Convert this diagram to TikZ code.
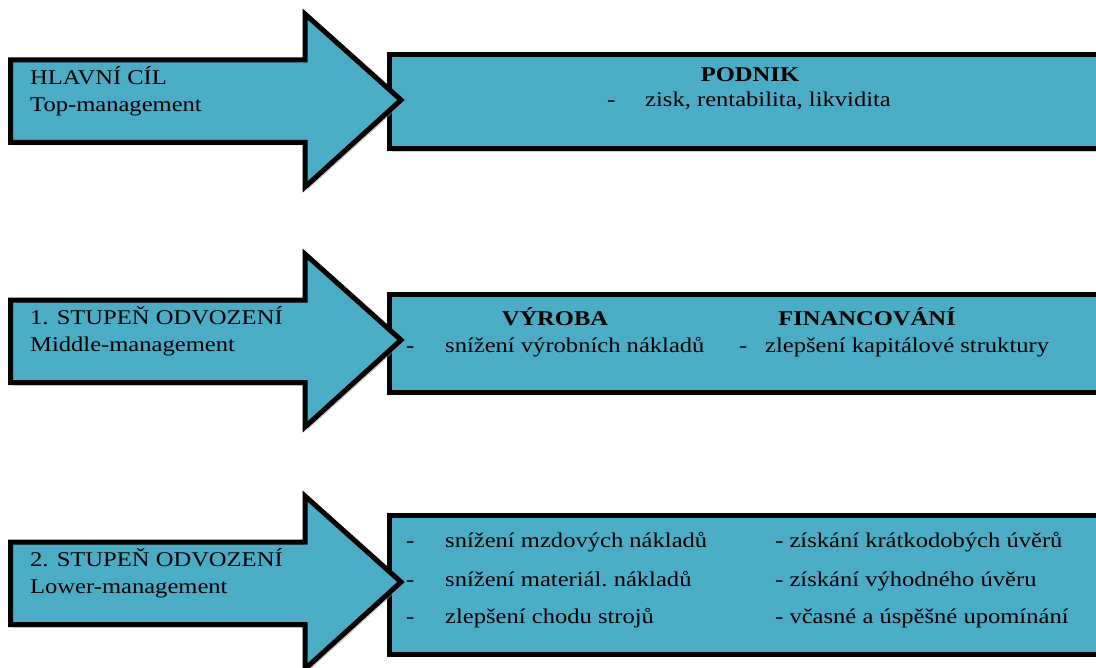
\documentclass[tikz,border=0pt]{standalone}
\usepackage{fontspec}
\setmainfont{Liberation Serif}
\newfontfamily\diagfont[FakeStretch=1.17]{Liberation Serif}
\usetikzlibrary{shadows}
\definecolor{panelblue}{HTML}{4BACC6}
\tikzset{
  panel/.style={draw=black,line width=5bp,fill=panelblue,line join=miter,
    drop shadow={shadow xshift=2.5bp,shadow yshift=-3bp,fill=black!40}},
  lvltext/.style={anchor=base west,inner sep=0pt,font=\diagfont\fontsize{21bp}{25bp}\selectfont},
  itemtext/.style={anchor=base west,inner sep=0pt,font=\diagfont\fontsize{21bp}{25bp}\selectfont},
  headtext/.style={anchor=base,inner sep=0pt,font=\diagfont\bfseries\fontsize{21bp}{25bp}\selectfont},
}
\begin{document}
\begin{tikzpicture}[x=1bp,y=-1bp]
\useasboundingbox (0,0) rectangle (1096,668);
% boxes
\draw[panel] (389,55) rectangle (1120,149);
\draw[panel] (389,294) rectangle (1120,392);
\draw[panel] (389,515) rectangle (1120,654);
% arrows
\foreach \t in {100,340,582}
  \draw[panel] (10.5,\t-40) -- (305,\t-40) -- (305,\t-86) -- (401,\t) -- (305,\t+87) -- (305,\t+42.5) -- (10.5,\t+42.5) -- cycle;
% arrow labels
\node[lvltext] (goal) at (30,85) {HLAVNÍ CÍL};
\node[lvltext] (goalmgmt) at (30,112) {Top-management};
\node[lvltext] (first) at (30,324) {1. STUPEŇ ODVOZENÍ};
\node[lvltext] (firstmgmt) at (30,351) {Middle-management};
\node[lvltext] (second) at (30,566) {2. STUPEŇ ODVOZENÍ};
\node[lvltext] (secondmgmt) at (30,593) {Lower-management};
% box 1
\node[headtext] (podnik) at (750,82) {PODNIK};
\node[itemtext] (podnikd) at (607,107) {-};
\node[itemtext] (zisk) at (645,107) {zisk, rentabilita, likvidita};
% box 2
\node[headtext] (vyroba) at (555,325) {VÝROBA};
\node[headtext] (financ) at (867,325) {FINANCOVÁNÍ};
\node[itemtext] (vyrobad) at (406,352) {-};
\node[itemtext] (vyrobai) at (445,352) {snížení výrobních nákladů};
\node[itemtext] (financd) at (739,352) {-};
\node[itemtext] (financi) at (765,352) {zlepšení kapitálové struktury};
% box 3
\foreach \n/\y/\a/\b in {a/547/snížení mzdových nákladů/získání krátkodobých úvěrů,
    b/586/snížení materiál.\ nákladů/získání výhodného úvěru,
    c/623/zlepšení chodu strojů/včasné a úspěšné upomínání}{
  \node[itemtext] (dash\n) at (406,\y) {-};
  \node[itemtext] (left\n) at (445,\y) {\a};
  \node[itemtext] (right\n) at (775,\y) {- \b};
}
\end{tikzpicture}
\end{document}
